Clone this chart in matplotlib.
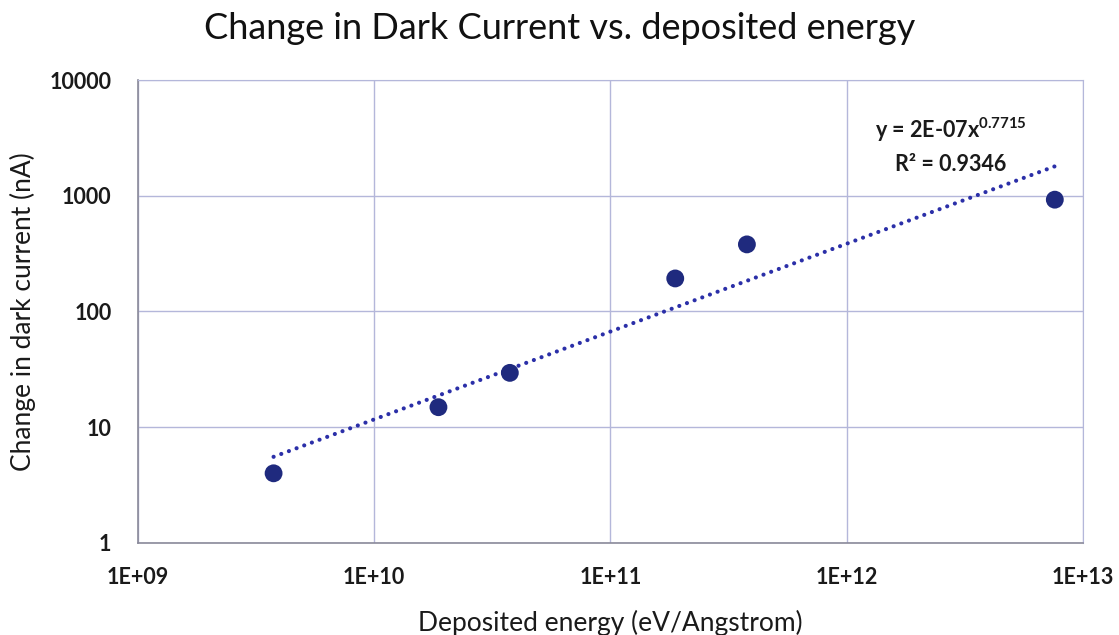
import numpy as np
import matplotlib
matplotlib.use("Agg")
import matplotlib.pyplot as plt
from matplotlib.ticker import FixedLocator, FixedFormatter, NullLocator

plt.rcParams['font.family'] = ['Lato', 'DejaVu Sans']
plt.rcParams['mathtext.fontset'] = 'custom'
plt.rcParams['mathtext.rm'] = 'Lato:bold'
plt.rcParams['mathtext.it'] = 'Lato:bold'
plt.rcParams['mathtext.bf'] = 'Lato:bold'

# Data
energy = [3.75e9, 1.87e10, 3.75e10, 1.88e11, 3.78e11, 7.6e12]
dark_current = [4.0, 14.9, 29.5, 193, 380, 925]
x_ticks = [1e9, 1e10, 1e11, 1e12, 1e13]
x_tick_labels = ["1E+09", "1E+10", "1E+11", "1E+12", "1E+13"]
y_ticks = [1, 10, 100, 1000, 10000]
y_tick_labels = ["1", "10", "100", "1000", "10000"]
eq_text = "y = 2E-07x$^{0.7715}$\nR² = 0.9346"

navy = "#1F2A7E"
grid_c = "#B4B7DA"
txt_c = "#1A1A1A"

fig = plt.figure(figsize=(11.19, 6.35), dpi=100)
ax = fig.add_axes([0.1233, 0.1449, 0.8445, 0.7291])
ax.set_xscale('log')
ax.set_yscale('log')
ax.set_xlim(1e9, 1e13)
ax.set_ylim(1, 10000)

# Power-law trendline fitted in log space
lx = np.log10(energy)
ly = np.log10(dark_current)
b, a = np.polyfit(lx, ly, 1)
xs = np.logspace(lx.min(), lx.max(), 100)
ax.plot(xs, 10 ** (a + b * np.log10(xs)), linestyle=(0, (0.01, 1.95)), color="#2B2FA8",
        linewidth=3.0, dash_capstyle='round', zorder=3)

ax.scatter(energy, dark_current, s=165, color=navy, zorder=4, edgecolors='none')

ax.xaxis.set_major_locator(FixedLocator(x_ticks))
ax.xaxis.set_major_formatter(FixedFormatter(x_tick_labels))
ax.yaxis.set_major_locator(FixedLocator(y_ticks))
ax.yaxis.set_major_formatter(FixedFormatter(y_tick_labels))
ax.xaxis.set_minor_locator(NullLocator())
ax.yaxis.set_minor_locator(NullLocator())
ax.tick_params(length=0, labelsize=15.5, colors=txt_c)
ax.tick_params(axis='y', pad=19)
ax.tick_params(axis='x', pad=17)
for lab in ax.get_xticklabels() + ax.get_yticklabels():
    lab.set_fontweight('bold')

ax.grid(True, color=grid_c, linewidth=1.0, zorder=0)
ax.set_axisbelow(True)
for s in ['top', 'right']:
    ax.spines[s].set_color(grid_c)
for s in ['left', 'bottom']:
    ax.spines[s].set_color("#8A8A9A")
    ax.spines[s].set_linewidth(1.2)

ax.set_xlabel("Deposited energy (eV/Angstrom)", fontsize=19, labelpad=16, color=txt_c)
ax.set_ylabel("Change in dark current (nA)", fontsize=19, labelpad=10, color=txt_c)
fig.text(0.5, 0.955, "Change in Dark Current vs. deposited energy", ha='center', va='center',
         fontsize=26, color="#111111")

ax.text(0.86, 0.922, eq_text, transform=ax.transAxes, ha='center', va='top',
        fontsize=15.5, fontweight='bold', color=txt_c, linespacing=1.55)

fig.savefig("out.png", dpi=100)
